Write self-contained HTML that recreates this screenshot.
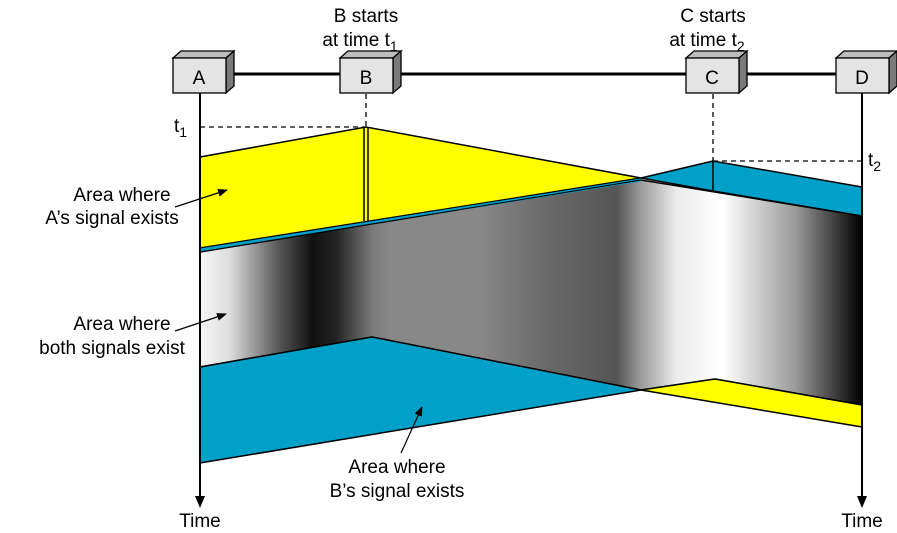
<!DOCTYPE html>
<html><head><style>body{margin:0;background:#fff}svg{display:block}text{font-family:"Liberation Sans",sans-serif;fill:#000}</style></head><body>
<svg width="897" height="533" viewBox="0 0 897 533" xmlns="http://www.w3.org/2000/svg">
<defs>
<linearGradient id="g" x1="200" y1="0" x2="862" y2="0" gradientUnits="userSpaceOnUse">
<stop offset="0" stop-color="#f6f6f6"/>
<stop offset="0.045" stop-color="#dddddd"/>
<stop offset="0.12" stop-color="#555"/>
<stop offset="0.17" stop-color="#111"/>
<stop offset="0.205" stop-color="#222"/>
<stop offset="0.26" stop-color="#7a7a7a"/>
<stop offset="0.29" stop-color="#888"/>
<stop offset="0.42" stop-color="#888"/>
<stop offset="0.52" stop-color="#6a6a6a"/>
<stop offset="0.63" stop-color="#555"/>
<stop offset="0.665" stop-color="#9a9a9a"/>
<stop offset="0.72" stop-color="#ececec"/>
<stop offset="0.79" stop-color="#fff"/>
<stop offset="0.9" stop-color="#999"/>
<stop offset="1" stop-color="#000"/>
</linearGradient>
<marker id="ar" markerWidth="10" markerHeight="8" refX="9" refY="4" orient="auto" markerUnits="userSpaceOnUse"><path d="M0,0 L10,4 L0,8 z" fill="#000"/></marker>
</defs>
<!-- gray band -->
<polygon points="200,252 641,180 862,216 862,405 715,379 641,390 372,337 200,367" fill="url(#g)" stroke="#000" stroke-width="1.5"/>
<!-- yellow top -->
<polygon points="200,157 366,127 641,178 200,248" fill="#ffff00" stroke="#000" stroke-width="1.5"/>
<line x1="200" y1="250" x2="641" y2="180" stroke="#00a0c8" stroke-width="3"/>
<line x1="200" y1="252" x2="641" y2="180" stroke="#000" stroke-width="1"/>
<line x1="364" y1="128" x2="364" y2="221" stroke="#000" stroke-width="1.5"/>
<line x1="368" y1="128" x2="368" y2="221" stroke="#000" stroke-width="1.5"/>
<!-- blue top right -->
<polygon points="641,178 713,161 862,187 862,216 713,191" fill="#00a0c8" stroke="#000" stroke-width="1.5"/>
<line x1="713" y1="161" x2="713" y2="191" stroke="#000" stroke-width="1.5"/>
<!-- blue bottom -->
<polygon points="200,367 372,337 641,390 200,463" fill="#00a0c8" stroke="#000" stroke-width="1.5"/>
<!-- yellow bottom -->
<polygon points="641,390 715,379 862,405 862,427" fill="#ffff00" stroke="#000" stroke-width="1.5"/>
<!-- timelines -->
<line x1="200" y1="93" x2="200" y2="500" stroke="#000" stroke-width="2"/>
<path d="M195,496 L200,508 L205,496 z" fill="#000"/>
<line x1="862" y1="93" x2="862" y2="500" stroke="#000" stroke-width="2"/>
<path d="M857,496 L862,508 L867,496 z" fill="#000"/>
<!-- dashed -->
<g stroke="#000" stroke-width="1.3" stroke-dasharray="5,4" fill="none">
<line x1="366" y1="94" x2="366" y2="127"/>
<line x1="200" y1="127" x2="366" y2="127"/>
<line x1="713" y1="94" x2="713" y2="161"/>
<line x1="713" y1="161" x2="862" y2="161"/>
</g>
<!-- bus -->
<line x1="226" y1="74" x2="840" y2="74" stroke="#000" stroke-width="3"/>
<!-- boxes -->
<g stroke="#000" stroke-width="1.3">
<g transform="translate(173,58)"><polygon points="0,0 8,-7 61,-7 53,0" fill="#bdbdbd"/><polygon points="53,0 61,-7 61,28 53,35" fill="#7a7a7a"/><rect x="0" y="0" width="53" height="35" fill="#e4e4e4"/></g>
<g transform="translate(340,58)"><polygon points="0,0 8,-7 61,-7 53,0" fill="#bdbdbd"/><polygon points="53,0 61,-7 61,28 53,35" fill="#7a7a7a"/><rect x="0" y="0" width="53" height="35" fill="#e4e4e4"/></g>
<g transform="translate(686,58)"><polygon points="0,0 8,-7 61,-7 53,0" fill="#bdbdbd"/><polygon points="53,0 61,-7 61,28 53,35" fill="#7a7a7a"/><rect x="0" y="0" width="53" height="35" fill="#e4e4e4"/></g>
<g transform="translate(836,58)"><polygon points="0,0 8,-7 61,-7 53,0" fill="#bdbdbd"/><polygon points="53,0 61,-7 61,28 53,35" fill="#7a7a7a"/><rect x="0" y="0" width="53" height="35" fill="#e4e4e4"/></g>
</g>
<g font-size="19" text-anchor="middle">
<text x="199" y="84">A</text><text x="366" y="84">B</text><text x="712" y="84">C</text><text x="862" y="84">D</text>
<text x="366" y="22">B starts</text>
<text x="360" y="46">at time t<tspan font-size="14" dy="5">1</tspan></text>
<text x="713" y="22">C starts</text>
<text x="707" y="46">at time t<tspan font-size="14" dy="5">2</tspan></text>
<text x="200" y="527">Time</text><text x="862" y="527">Time</text>
<text x="122" y="201">Area where</text>
<text x="112" y="224">A’s signal exists</text>
<text x="122" y="330">Area where</text>
<text x="112" y="354">both signals exist</text>
<text x="397" y="473">Area where</text>
<text x="397" y="497">B’s signal exists</text>
</g>
<text x="174" y="132" font-size="19">t<tspan font-size="14" dy="5">1</tspan></text>
<text x="868" y="166" font-size="19">t<tspan font-size="14" dy="5">2</tspan></text>
<g stroke="#000" stroke-width="1.2">
<line x1="175" y1="207" x2="227" y2="190" marker-end="url(#ar)"/>
<line x1="175" y1="331" x2="226" y2="314" marker-end="url(#ar)"/>
<line x1="401" y1="453" x2="422" y2="407" marker-end="url(#ar)"/>
</g>
</svg>
</body></html>
